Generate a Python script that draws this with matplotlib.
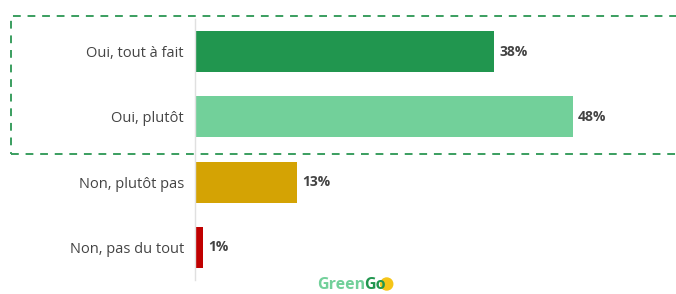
import matplotlib.pyplot as plt
from matplotlib.patches import Rectangle, Ellipse

categories = ['Oui, tout à fait', 'Oui, plutôt', 'Non, plutôt pas', 'Non, pas du tout']
values = [38, 48, 13, 1]
colors = ['#21964F', '#72D09A', '#D4A304', '#C00000']

plt.rcParams['font.family'] = ['Open Sans', 'DejaVu Sans']

W, H = 676, 294
fig = plt.figure(figsize=(W / 100, H / 100), dpi=100)
ax = fig.add_axes([195 / W, 14 / H, (W - 195) / W, 261 / H])

ypos = list(range(len(categories)))
ax.barh(ypos, values, height=0.63, color=colors)
ax.set_xlim(0, (W - 195) / 7.88)
ax.set_ylim(3.5, -0.5)
ax.set_yticks(ypos)
ax.set_yticklabels(categories, fontsize=10.5, color='#444444')
ax.tick_params(axis='y', length=0, pad=8)
ax.set_xticks([])
for s in ['top', 'right', 'bottom']:
    ax.spines[s].set_visible(False)
ax.spines['left'].set_color('#E0E0E0')
ax.spines['left'].set_linewidth(1)

for y, v in zip(ypos, values):
    ax.annotate(f'{v}%', (v, y), xytext=(3.5, 0), textcoords='offset points',
                va='center', ha='left', fontsize=10, fontweight='bold', color='#444444')

# encadré pointillé autour des "Oui"
rect = Rectangle((11 / W, 1 - 154 / H), (W - 11 + 5) / W, 138 / H,
                 transform=fig.transFigure, fill=False, edgecolor='#3A9E5F',
                 linewidth=1.4, linestyle=(0, (4, 3.5)), clip_on=False)
fig.patches.append(rect)

# logo GreenGo
t1 = fig.text(317 / W, 1 - 285 / H, 'Green', fontsize=11.5, fontweight='bold',
              color='#72D09A', va='center', ha='left')
fig.canvas.draw()
bb = t1.get_window_extent()
t2 = fig.text((bb.x1 - 1) / W, 1 - 285 / H, 'Go', fontsize=11.5, fontweight='bold',
              color='#21964F', va='center', ha='left', zorder=2)
fig.canvas.draw()
bb2 = t2.get_window_extent()
fig.patches.append(Ellipse(((bb2.x1 + 1) / W, 1 - 284 / H), 12 / W, 12 / H,
                           transform=fig.transFigure, color='#F5C518', zorder=1))

fig.savefig('out.png', dpi=100)
